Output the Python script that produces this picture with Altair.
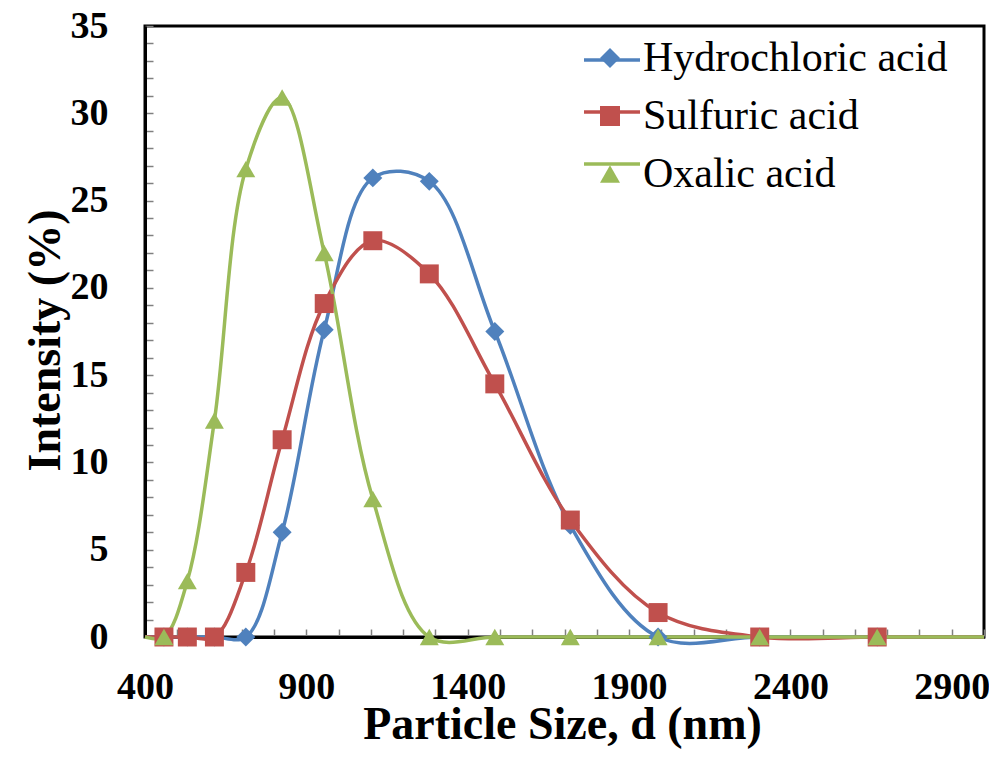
import altair as alt
import pandas as pd

sizes = [396.1, 458.7, 531.2, 615.1, 712.4, 825.0, 955.4, 1106, 1281, 1484, 1718, 1990, 2305, 2669, 3091]
hydrochloric = [0, 0, 0, 0, 0, 6.0, 17.6, 26.3, 26.1, 17.5, 6.4, 0, 0, 0, 0]
sulfuric = [0, 0, 0, 0, 3.7, 11.3, 19.1, 22.7, 20.8, 14.5, 6.7, 1.4, 0, 0, 0]
oxalic = [0, 0, 3.2, 12.4, 26.8, 30.9, 22.0, 7.9, 0, 0, 0, 0, 0, 0, 0]

series_names = ["Hydrochloric acid", "Sulfuric acid", "Oxalic acid"]
series_colors = ["#4F81BD", "#C0504D", "#9BBB59"]
series_shapes = ["diamond", "square", "triangle-up"]

x_ticks = list(range(400, 3001, 100))
y_ticks = list(range(0, 36))

rows = []
for name, vals in zip(series_names, [hydrochloric, sulfuric, oxalic]):
    for s, v in zip(sizes, vals):
        rows.append({"size": s, "intensity": v, "series": name, "line_series": name})
df = pd.DataFrame(rows)

label_legend = alt.Legend(
    title=None,
    orient="none",
    legendX=444,
    legendY=11,
    padding=0,
    labelFont="Liberation Serif",
    labelFontSize=42,
    labelColor="black",
    labelLimit=500,
    labelOffset=12,
    symbolSize=400,
    symbolStrokeWidth=0,
    symbolOpacity=1,
    rowPadding=16,
)

line_legend = alt.Legend(
    title=None,
    orient="none",
    legendX=437,
    legendY=4,
    padding=0,
    labelFont="Liberation Serif",
    labelFontSize=40,
    labelExpr="''",
    symbolType="stroke",
    symbolSize=3136,
    symbolStrokeWidth=3.5,
    rowPadding=2,
)

x_enc = alt.X(
    "size:Q",
    scale=alt.Scale(domain=[400, 3000], nice=False, zero=False, clamp=True),
    axis=alt.Axis(
        values=x_ticks,
        format="d",
        labelExpr="(datum.value - 400) % 500 === 0 && datum.value < 3000 ? datum.label : ''",
        labelOverlap=False,
        labelFlush=False,
        labelBaseline="alphabetic",
        labelPadding=69,
        title="Particle Size, d (nm)",
        titleX=417,
        titleY=101,
        titleBaseline="alphabetic",
        tickSize=alt.ExprRef(expr="-8"),
    ),
)
y_enc = alt.Y(
    "intensity:Q",
    scale=alt.Scale(domain=[0, 35], nice=False),
    axis=alt.Axis(
        values=y_ticks,
        labelExpr="datum.value % 5 === 0 ? datum.label : ''",
        labelOverlap=False,
        labelFlush=False,
        labelPadding=45,
        title="Intensity (%)",
        titleX=-100,
        titleY=314,
        titleBaseline="middle",
        titleAngle=-90,
        tickSize=alt.ExprRef(expr="-8"),
    ),
)

base = alt.Chart(df)

lines = base.mark_line(interpolate="catmull-rom", strokeWidth=3.5).encode(
    x=x_enc,
    y=y_enc,
    color=alt.Color("line_series:N", scale=alt.Scale(domain=series_names, range=series_colors), legend=line_legend),
    detail="series:N",
    order="size:Q",
)

points = base.transform_filter("datum.size >= 400 && datum.size <= 3000").mark_point(
    filled=True, opacity=1, size=360
).encode(
    x=x_enc,
    y=y_enc,
    color=alt.Color("series:N", scale=alt.Scale(domain=series_names, range=series_colors), legend=label_legend),
    shape=alt.Shape("series:N", scale=alt.Scale(domain=series_names, range=series_shapes), legend=label_legend),
)

chart = alt.layer(lines, points).resolve_scale(
    color="independent", shape="independent"
).properties(
    width=839,
    height=611,
    padding={"left": 137, "top": 18, "right": 5, "bottom": 112},
    autosize=alt.AutoSizeParams(type="none"),
    background="white",
).configure_view(
    stroke="black", strokeWidth=3
).configure_axis(
    grid=False,
    domainColor="black",
    domainWidth=3,
    tickColor="#808080",
    tickWidth=1.5,
    labelFont="Liberation Serif",
    labelFontWeight="bold",
    labelFontSize=38,
    labelColor="black",
    titleFont="Liberation Serif",
    titleFontWeight="bold",
    titleFontSize=46,
    titleColor="black",
)

chart.save("out.html", embed_options={"renderer": "svg", "actions": False})
